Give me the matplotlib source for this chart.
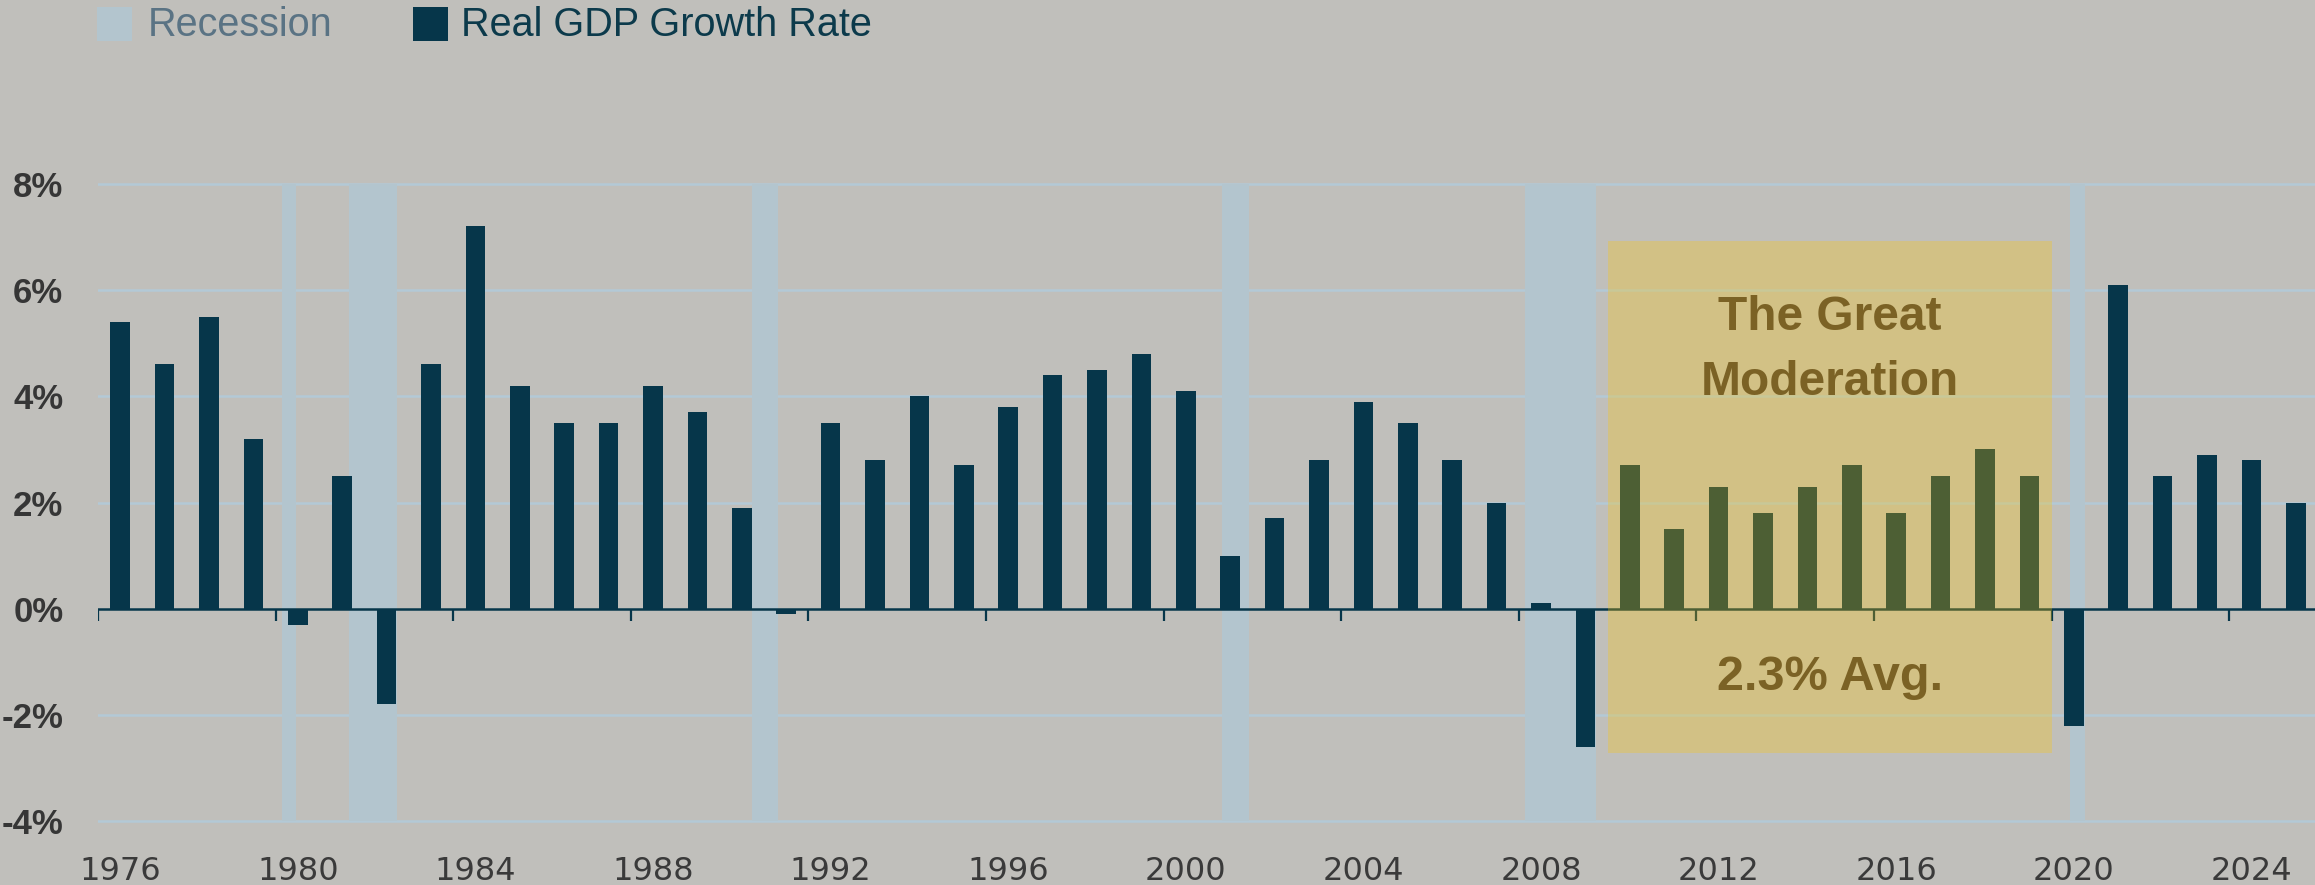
import matplotlib
matplotlib.use("Agg")
import matplotlib.pyplot as plt
from matplotlib.patches import Rectangle

# data
years = list(range(1976, 2026))
growth = [5.4, 4.6, 5.5, 3.2, -0.3, 2.5, -1.8, 4.6, 7.2, 4.2,
          3.5, 3.5, 4.2, 3.7, 1.9, -0.1, 3.5, 2.8, 4.0, 2.7,
          3.8, 4.4, 4.5, 4.8, 4.1, 1.0, 1.7, 2.8, 3.9, 3.5,
          2.8, 2.0, 0.1, -2.6, 2.7, 1.5, 2.3, 1.8, 2.3, 2.7,
          1.8, 2.5, 3.0, 2.5, -2.2, 6.1, 2.5, 2.9, 2.8, 2.0]
rec_start = [1980.14, 1981.65, 1990.74, 2001.32, 2008.15, 2020.42]
rec_end = [1980.46, 1982.73, 1991.32, 2001.92, 2009.73, 2020.76]
label_years = list(range(1976, 2025, 4))
y_ticks = [-4, -2, 0, 2, 4, 6, 8]
grid_vals = [-4, -2, 2, 4, 6, 8]
gm_start, gm_end = 2010, 2020
gm_low, gm_high = -2.72, 6.92

bg = "#c0bfbb"
navy = "#06364a"
rec_col = "#b3c5ce"
grid_col = "#b3c9d6"
gold_text = "#7b6225"
W, H = 2315, 885

fig = plt.figure(figsize=(W / 100, H / 100), dpi=100, facecolor=bg)
ax = fig.add_axes([98 / W, 0.066, 2220 / W, 0.7324])
ax.set_facecolor(bg)

for g in grid_vals:
    ax.axhline(g, color=grid_col, lw=1.8, zorder=0)

rec_w = [e - s for s, e in zip(rec_start, rec_end)]
ax.bar(rec_start, [12] * len(rec_start), width=rec_w, bottom=-4,
       align="edge", color=rec_col, zorder=1)

ax.bar([y + 0.5 for y in years], growth, width=0.44, color=navy, zorder=2)

ax.axhline(0, color=navy, lw=1.8, zorder=3)
ax.vlines(label_years, -0.23, 0, color=navy, lw=1.6, zorder=3)

ax.add_patch(Rectangle((gm_start, gm_low), gm_end - gm_start, gm_high - gm_low,
                       facecolor="#ffc600", alpha=0.285, lw=0, zorder=5))
ax.text(2015.0, 5.25, "The Great", ha="center", va="baseline", fontsize=34.5,
        fontweight="bold", color=gold_text, family="Liberation Sans", zorder=6)
ax.text(2015.0, 4.03, "Moderation", ha="center", va="baseline", fontsize=34.5,
        fontweight="bold", color=gold_text, family="Liberation Sans", zorder=6)
ax.text(2015.0, -1.53, "2.3% Avg.", ha="center", va="baseline", fontsize=35,
        fontweight="bold", color=gold_text, family="Liberation Sans", zorder=6)

ax.set_xlim(1976, 2026)
ax.set_ylim(-4.1, 8.1)
ax.set_yticks(y_ticks)
ax.set_yticklabels([f"{v}%" for v in y_ticks], fontsize=25, fontweight="bold",
                   color="#363636", family="Liberation Sans")
ax.set_xticks([y + 0.5 for y in label_years])
ax.set_xticklabels([str(y) for y in label_years], fontsize=23, color="#3a3a3a",
                   family="DejaVu Sans")
ax.tick_params(axis="y", length=0, pad=25)
ax.tick_params(axis="x", length=0, pad=21)
for s in ax.spines.values():
    s.set_visible(False)

# legend
fig.add_artist(Rectangle((97 / W, 1 - 41 / H), 35 / W, 34 / H, transform=fig.transFigure,
                         facecolor=rec_col, lw=0))
fig.text(148 / W, 1 - 25 / H, "Recession", fontsize=28.5, color="#5a7384",
         family="Liberation Sans", va="center", ha="left")
fig.add_artist(Rectangle((413 / W, 1 - 41 / H), 35 / W, 34 / H, transform=fig.transFigure,
                         facecolor=navy, lw=0))
fig.text(461 / W, 1 - 25 / H, "Real GDP Growth Rate", fontsize=28.5, color="#0c3a4b",
         family="Liberation Sans", va="center", ha="left")

fig.savefig("out.png", dpi=100, facecolor=bg)
